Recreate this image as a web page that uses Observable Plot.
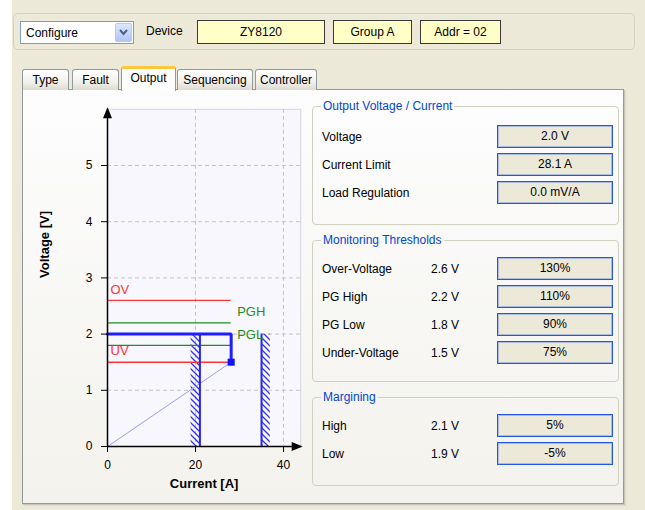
<!DOCTYPE html>
<html><head><meta charset="utf-8">
<script src="https://cdn.jsdelivr.net/npm/d3@7"></script>
<script src="https://cdn.jsdelivr.net/npm/@observablehq/plot@0.6"></script>
<style>
html,body{margin:0;padding:0;}
body{width:645px;height:510px;position:relative;overflow:hidden;background:#ece9d8;font-family:"Liberation Sans",Arial,sans-serif;font-size:12px;color:#000;}
.abs{position:absolute;box-sizing:border-box;}
#leftstrip{left:0;top:0;width:12px;height:510px;background:#fff;}
#toolbar{left:13px;top:13px;width:622px;height:37px;border:1px solid #d3d0c0;border-radius:5px;}
#combo{left:20px;top:21px;width:114px;height:23px;border:1px solid #7f9db9;background:#fff;}
#combo span{position:absolute;left:5px;top:0;line-height:22px;}
#combo .btn{position:absolute;right:1px;top:1px;width:17px;height:19px;border-radius:2px;background:linear-gradient(#dce7fe,#b0c6f5);border:1px solid #b7c9f0;box-sizing:border-box;}
.label{position:absolute;line-height:14px;white-space:nowrap;}
.ybox{position:absolute;top:20px;height:24px;background:#ffffc8;border:1px solid #3b3b3b;box-sizing:border-box;text-align:center;line-height:22px;}
.tab{position:absolute;top:69px;height:21px;border:1px solid #919b9c;border-bottom:none;border-radius:3px 3px 0 0;background:linear-gradient(#ffffff,#f1f0ea 60%,#dedbcf);box-sizing:border-box;text-align:center;line-height:20px;}
.tab.sel{top:66px;height:25px;background:#fdfdfe;border-top:3px solid #ffc83c;line-height:19px;z-index:2;}
#panel{left:22px;top:89px;width:602px;height:415px;border:1px solid #919b9c;background:linear-gradient(#fdfdfe,#f3f2ec);box-shadow:1px 1px 0 #c8c6ba,2px 2px 0 #dedbcb;}
.group{position:absolute;left:312px;width:307px;border:1px solid #d0d0bf;border-radius:4px;box-sizing:border-box;}
.gtitle{position:absolute;left:8px;top:-8px;padding:0 2px;color:#0046d5;line-height:14px;white-space:nowrap;}
.vbox{position:absolute;left:497px;width:116px;height:23px;background:#ece9d8;border:1px solid #2458e0;box-shadow:inset 0 0 0 1px rgba(90,130,230,0.45);box-sizing:border-box;text-align:center;line-height:21px;}
#chart{left:22px;top:92px;}
</style>
</head>
<body>
<div class="abs" id="leftstrip"></div>
<div class="abs" id="toolbar"></div>
<div class="abs" id="combo"><span>Configure</span><div class="btn"><svg width="15" height="17"><polyline points="4,6 7.5,10 11,6" fill="none" stroke="#4d6185" stroke-width="2"/></svg></div></div>
<div class="label" style="left:146px;top:24px">Device</div>
<div class="ybox" style="left:197px;width:128px">ZY8120</div>
<div class="ybox" style="left:333px;width:79px">Group A</div>
<div class="ybox" style="left:420px;width:81px">Addr = 02</div>
<div class="abs" id="panel"></div>
<div id="tabs"></div>
<div id="groups"></div>
<div class="abs" id="chart"></div>
<script>
// ---------- data ----------
const tabNames = ["Type", "Fault", "Output", "Sequencing", "Controller"];
const selectedTab = "Output";

const thresholdNames = ["OV", "PGH", "PGL", "UV"];
const thresholdVolts = [2.6, 2.2, 1.8, 1.5];
const outputVoltage = 2.0;
const currentLimit = 28.1;
const currentLimitLines = [21, 35];
const hatchBands = [{x1: 19, x2: 21}, {x1: 35, x2: 37}];
const xTicks = [0, 20, 40];
const yTicks = [0, 1, 2, 3, 4, 5];
const xMax = 43.9, yMax = 6;

const outputLabels = ["Voltage", "Current Limit", "Load Regulation"];
const outputValues = ["2.0 V", "28.1 A", "0.0 mV/A"];
const monitorLabels = ["Over-Voltage", "PG High", "PG Low", "Under-Voltage"];
const monitorVolts = ["2.6 V", "2.2 V", "1.8 V", "1.5 V"];
const monitorPercents = ["130%", "110%", "90%", "75%"];
const marginLabels = ["High", "Low"];
const marginVolts = ["2.1 V", "1.9 V"];
const marginPercents = ["5%", "-5%"];

// ---------- tabs ----------
const tabGeom = [[22, 47], [72, 47], [121, 55], [177, 76], [255, 62]];
const tabsEl = document.getElementById("tabs");
tabNames.forEach((t, i) => {
  const d = document.createElement("div");
  d.className = "tab" + (t === selectedTab ? " sel" : "");
  d.style.left = tabGeom[i][0] + "px";
  d.style.width = tabGeom[i][1] + "px";
  d.textContent = t;
  tabsEl.appendChild(d);
});

// ---------- right groups ----------
const groupsEl = document.getElementById("groups");
function group(title, top, height, bg, labels, volts, values, firstY) {
  const g = document.createElement("div");
  g.className = "group";
  g.style.top = top + "px";
  g.style.height = height + "px";
  const t = document.createElement("div");
  t.className = "gtitle";
  t.style.background = bg;
  t.textContent = title;
  g.appendChild(t);
  groupsEl.appendChild(g);
  labels.forEach((l, i) => {
    const cy = firstY + i * 28;
    const a = document.createElement("div");
    a.className = "label"; a.style.left = "322px"; a.style.top = (cy - 7) + "px"; a.textContent = l;
    groupsEl.appendChild(a);
    if (volts) {
      const v = document.createElement("div");
      v.className = "label"; v.style.left = "431px"; v.style.top = (cy - 7) + "px"; v.textContent = volts[i];
      groupsEl.appendChild(v);
    }
    const b = document.createElement("div");
    b.className = "vbox"; b.style.top = (cy - 12) + "px"; b.textContent = values[i];
    groupsEl.appendChild(b);
  });
}
group("Output Voltage / Current", 106, 119, "#fdfdfd", outputLabels, null, outputValues, 136.5);
group("Monitoring Thresholds", 240, 142, "#f9f9f6", monitorLabels, monitorVolts, monitorPercents, 269);
group("Margining", 397, 89, "#f6f5f1", marginLabels, marginVolts, marginPercents, 426);

// ---------- chart ----------
const thresholds = thresholdNames.map((name, i) => ({name, v: thresholdVolts[i]}));
const colorOf = (name) => name.startsWith("PG") ? "#1f8f1f" : "#ff3434";
const leftLabels = thresholds.filter(d => !d.name.startsWith("PG"));
const rightLabels = thresholds.filter(d => d.name.startsWith("PG"));
const uvVolt = thresholdVolts[thresholdNames.indexOf("UV")];
const outputCurve = [
  {i: 0, v: outputVoltage},
  {i: currentLimit, v: outputVoltage},
  {i: currentLimit, v: uvVolt}
];
const loadLine = [{i: 0, v: 0}, {i: currentLimit, v: uvVolt}];

const arrowUp = {draw(ctx) { ctx.moveTo(0, -2); ctx.lineTo(4.5, 9); ctx.lineTo(-4.5, 9); ctx.closePath(); }};
const arrowRight = {draw(ctx) { ctx.moveTo(2, 0); ctx.lineTo(-9, -4.5); ctx.lineTo(-9, 4.5); ctx.closePath(); }};

function hatchDefs() {
  const defs = d3.create("svg:defs");
  const p = defs.append("pattern").attr("id", "hatch")
    .attr("patternUnits", "userSpaceOnUse").attr("width", 6).attr("height", 6);
  p.append("path").attr("d", "M-1,-1L7,7M-1,5L1,7M5,-1L7,1")
    .attr("stroke", "#3434e0").attr("stroke-width", 1.3).attr("fill", "none");
  return defs.node();
}

const chart = Plot.plot({
  width: 290, height: 408,
  marginLeft: 85, marginRight: 11.8, marginTop: 16.8, marginBottom: 54,
  x: {domain: [0, xMax]},
  y: {domain: [0, yMax]},
  style: {background: "transparent", fontFamily: "'Liberation Sans', Arial, sans-serif", fontSize: "12px", overflow: "visible", color: "#000"},
  marks: [
    hatchDefs,
    Plot.frame({fill: "#f7f7fd", stroke: "#d4d6e2"}),
    Plot.gridX(xTicks.filter(d => d > 0), {stroke: "#c4c4c4", strokeOpacity: 1, strokeDasharray: "4,3"}),
    Plot.gridY(yTicks.filter(d => d > 0), {stroke: "#c4c4c4", strokeOpacity: 1, strokeDasharray: "4,3"}),
    Plot.rect(hatchBands, {x1: "x1", x2: "x2", y1: 0, y2: outputVoltage, fill: "url(#hatch)"}),
    Plot.ruleY(thresholds, {y: "v", x1: 0, x2: currentLimit, stroke: d => colorOf(d.name), strokeWidth: 1.4}),
    Plot.line(loadLine, {x: "i", y: "v", stroke: "#9a9aff", strokeWidth: 1}),
    Plot.ruleX(currentLimitLines, {y1: 0, y2: outputVoltage, stroke: "#2626ee", strokeWidth: 2}),
    Plot.line(outputCurve, {x: "i", y: "v", stroke: "#1e1eff", strokeWidth: 3, strokeLinejoin: "miter"}),
    Plot.dot([outputCurve[2]], {x: "i", y: "v", symbol: "square", r: 4, fill: "#1212ff", stroke: "none"}),
    Plot.ruleX([0], {y1: 0, y2: yMax, stroke: "#000", strokeWidth: 1.5}),
    Plot.ruleY([0], {x1: 0, x2: xMax, stroke: "#000", strokeWidth: 1.5}),
    Plot.dot([{i: 0, v: yMax}], {x: "i", y: "v", symbol: arrowUp, fill: "#000", stroke: "none"}),
    Plot.dot([{i: xMax, v: 0}], {x: "i", y: "v", symbol: arrowRight, fill: "#000", stroke: "none"}),
    Plot.axisY({ticks: yTicks, tickSize: 6, tickPadding: 9, label: null, tickFormat: d => String(d)}),
    Plot.axisX({ticks: xTicks, tickSize: 6, tickPadding: 8, label: null, tickFormat: d => String(d)}),
    Plot.text(leftLabels, {x: 0, y: "v", text: "name", textAnchor: "start", dx: 3, dy: -11, fill: d => colorOf(d.name), fontSize: 13}),
    Plot.text(rightLabels, {x: currentLimit, y: "v", text: "name", textAnchor: "start", dx: 6, dy: -11, fill: d => colorOf(d.name), fontSize: 13}),
    Plot.text(["Voltage [V]"], {text: d => d, frameAnchor: "left", dx: -63, rotate: -90, fontWeight: "bold", fontSize: 13}),
    Plot.text(["Current [A]"], {text: d => d, frameAnchor: "bottom", dy: 41, fontWeight: "bold", fontSize: 13})
  ]
});
document.getElementById("chart").appendChild(chart);
</script>
</body></html>
